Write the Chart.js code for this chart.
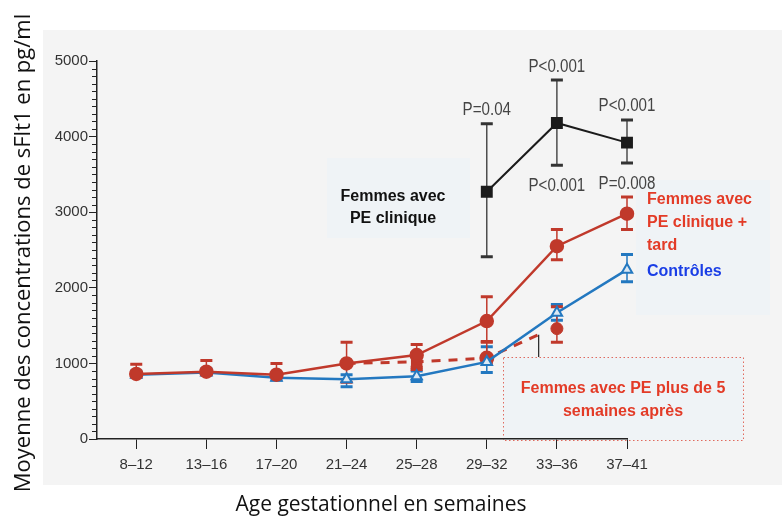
<!DOCTYPE html>
<html lang="fr">
<head>
<meta charset="UTF-8">
<title>sFlt1</title>
<script src="https://cdn.jsdelivr.net/npm/chart.js"></script>
<style>
  body { margin: 0; background: #ffffff; }
  canvas { display: block; }
</style>
</head>
<body>
<canvas id="myChart" width="782" height="520"></canvas>
<script>
// categories (gestational age, weeks)
var labels = ['8\u201312', '13\u201316', '17\u201320', '21\u201324', '25\u201328', '29\u201332', '33\u201336', '37\u201341'];

// Femmes avec PE clinique (black)
var peVal = [null, null, null, null, null, 3270, 4180, 3920];
var peLo  = [null, null, null, null, null, 2410, 3620, 3650];
var peHi  = [null, null, null, null, null, 4170, 4750, 4220];

// Femmes avec PE clinique + tard (red)
var tardVal = [860, 890, 850, 1000, 1110, 1560, 2550, 2980];
var tardLo  = [840, 860, 840, 750, 950, 1280, 2370, 2770];
var tardHi  = [990, 1040, 1000, 1280, 1250, 1880, 2770, 3200];

// Contrôles (blue)
var ctrlVal = [850, 880, 810, 790, 830, 1020, 1670, 2240];
var ctrlLo  = [820, 850, 780, 690, 760, 880, 1570, 2080];
var ctrlHi  = [900, 930, 850, 850, 900, 1220, 1780, 2440];

// Femmes avec PE plus de 5 semaines après (red dashed)
var lateX   = [3, 4, 5, 5.74];
var lateVal = [1000, 1020, 1070, 1380];
var lateLo  = [null, 920, 1000, null];
var lateHi  = [null, 1140, 1290, null];
var lateMark = [0, 6, 6, 0];
var lateShape = ['circle', 'rect', 'circle', 'circle'];
var lateDotX = 6, lateDot = 1460, lateDotLo = 1280, lateDotHi = 1750;

// p-values
var pTexts = [
  { x: 5, y: 4170, t: 'P=0.04', off: 14 },
  { x: 6, y: 4750, t: 'P<0.001', off: 13 },
  { x: 7, y: 4220, t: 'P<0.001', off: 14 },
  { x: 7, y: 3200, t: 'P=0.008', off: 13 },
  { x: 6, y: 2770, t: 'P<0.001', off: 44 }
];

var RED = '#c0392b', BLUE = '#2378c0', BLACK = '#1b1b1b';

function pts(xs, ys) {
  return ys.map(function (v, i) { return { x: xs ? xs[i] : i, y: v }; })
           .filter(function (p) { return p.y !== null; });
}

var errorSets = [
  { vals: ctrlVal, lo: ctrlLo, hi: ctrlHi, color: BLUE, w: 1.5 },
  { vals: lateVal, lo: lateLo, hi: lateHi, color: RED, w: 1.5, xs: lateX },
  { vals: tardVal, lo: tardLo, hi: tardHi, color: RED, w: 1.5 },
  { vals: peVal, lo: peLo, hi: peHi, color: '#333333', w: 1.3 },
  { vals: [lateDot], lo: [lateDotLo], hi: [lateDotHi], color: RED, w: 1.5, xs: [lateDotX] }
];

var decor = {
  id: 'decor',
  beforeDraw: function (chart) {
    var c = chart.ctx;
    c.save();
    c.fillStyle = '#f4f4f4';
    c.fillRect(43, 30, 739, 455);
    // soft boxes behind labels
    c.fillStyle = '#eff3f6';
    c.fillRect(327, 158, 143, 80);
    c.fillRect(636, 180, 134, 135);
    c.fillRect(503, 357, 240, 83);
    c.setLineDash([1.5, 2.5]);
    c.strokeStyle = '#e06a5e';
    c.lineWidth = 1;
    c.strokeRect(503.5, 357.5, 240, 83);
    c.restore();
  },
  beforeDatasetsDraw: function (chart) {
    var c = chart.ctx, xs = chart.scales.x, ys = chart.scales.y;
    c.save();
    // minor ticks on y axis
    c.strokeStyle = '#222';
    c.lineWidth = 1;
    for (var v = 100; v < 5000; v += 100) {
      if (v % 1000 === 0) continue;
      var py = Math.round(ys.getPixelForValue(v)) + 0.5;
      c.beginPath();
      c.moveTo(xs.left - 5, py);
      c.lineTo(xs.left, py);
      c.stroke();
    }
    // error bars
    errorSets.forEach(function (s) {
      c.strokeStyle = s.color;
      s.vals.forEach(function (v, i) {
        if (v === null || s.lo[i] === null) return;
        var px = xs.getPixelForValue(s.xs ? s.xs[i] : i);
        var top = ys.getPixelForValue(s.hi[i]);
        var bot = ys.getPixelForValue(s.lo[i]);
        c.lineWidth = s.w;
        c.beginPath();
        c.moveTo(px, top);
        c.lineTo(px, bot);
        c.stroke();
        c.lineWidth = 3;
        c.beginPath();
        c.moveTo(px - 6, top);
        c.lineTo(px + 6, top);
        c.moveTo(px - 6, bot);
        c.lineTo(px + 6, bot);
        c.stroke();
      });
    });
    // leader line from dashed series to its label box
    var lx = xs.getPixelForValue(lateX[lateX.length - 1]);
    c.strokeStyle = '#222';
    c.lineWidth = 1.2;
    c.beginPath();
    c.moveTo(lx, ys.getPixelForValue(lateVal[lateVal.length - 1]));
    c.lineTo(lx, 357);
    c.stroke();
    c.restore();
  },
  afterDraw: function (chart) {
    var c = chart.ctx, xs = chart.scales.x, ys = chart.scales.y;
    c.save();
    // p-values (condensed look)
    c.fillStyle = '#444';
    c.font = '18px "Liberation Sans"';
    c.textAlign = 'center';
    c.textBaseline = 'middle';
    pTexts.forEach(function (p) {
      c.save();
      c.translate(xs.getPixelForValue(p.x), ys.getPixelForValue(p.y) - p.off);
      c.scale(0.84, 1);
      c.fillText(p.t, 0, 0);
      c.restore();
    });
    // series labels
    c.font = 'bold 16px "Liberation Sans"';
    c.fillStyle = '#111';
    c.fillText('Femmes avec', 393, 197);
    c.fillText('PE clinique', 393, 219);
    c.textAlign = 'left';
    c.fillStyle = '#e33b27';
    c.fillText('Femmes avec', 647, 200);
    c.fillText('PE clinique +', 647, 223);
    c.fillText('tard', 647, 246);
    c.fillStyle = '#1a3ee6';
    c.fillText('Contr\u00f4les', 647, 272);
    c.textAlign = 'center';
    c.fillStyle = '#e33b27';
    c.fillText('Femmes avec PE plus de 5', 623, 389);
    c.fillText('semaines apr\u00e8s', 623, 412);
    // axis titles
    c.fillStyle = '#111';
    c.font = '21px "Open Sans"';
    c.fillText('Age gestationnel en semaines', 381, 505);
    c.translate(24, 253);
    c.rotate(-Math.PI / 2);
    c.font = '22px "Open Sans"';
    c.fillText('Moyenne des concentrations de sFlt1 en pg/ml', 0, 0, 480);
    c.restore();
  }
};

var datasets = [
  {
    label: 'Femmes avec PE clinique',
    data: pts(null, peVal),
    borderColor: BLACK, backgroundColor: BLACK, borderWidth: 2,
    pointStyle: 'rect', pointRadius: 7, order: 1
  },
  {
    label: 'Femmes avec PE clinique + tard',
    data: pts(null, tardVal),
    borderColor: RED, backgroundColor: RED, borderWidth: 2.5,
    pointStyle: 'circle', pointRadius: 6, order: 2
  },
  {
    label: 'Femmes avec PE plus de 5 semaines après',
    data: pts(lateX, lateVal),
    borderColor: RED, backgroundColor: RED, borderWidth: 3,
    borderDash: [9, 8], pointRadius: lateMark, pointStyle: lateShape, order: 4
  },
  {
    label: 'late dot',
    data: [{ x: lateDotX, y: lateDot }],
    borderColor: RED, backgroundColor: RED, showLine: false,
    pointStyle: 'circle', pointRadius: 6, order: 5
  },
  {
    label: 'Contrôles',
    data: pts(null, ctrlVal),
    borderColor: BLUE, backgroundColor: '#dce9f4', borderWidth: 2.5,
    pointStyle: 'triangle', pointRadius: 6, pointBorderWidth: 2, order: 3
  }
];
datasets.forEach(function (d) { d.type = 'line'; d.tension = 0; d.clip = false; });

var ctx = document.getElementById('myChart').getContext('2d');
var myChart = new Chart(ctx, {
  type: 'line',
  data: { datasets: datasets },
  options: {
    responsive: false,
    animation: false,
    layout: { padding: { left: 0, top: 61, right: 155, bottom: 0 } },
    plugins: { legend: { display: false }, tooltip: { enabled: false } },
    scales: {
      x: {
        type: 'linear',
        min: -0.56,
        max: 7,
        afterBuildTicks: function (s) { s.ticks = labels.map(function (_, i) { return { value: i }; }); },
        afterFit: function (s) { s.height = 81; },
        border: { color: '#222', width: 1.5 },
        grid: { drawOnChartArea: false, tickLength: 10, tickColor: '#222' },
        ticks: {
          autoSkip: false,
          maxRotation: 0,
          padding: 7,
          color: '#333',
          font: { size: 15, family: 'Liberation Sans' },
          callback: function (v) { return labels[v]; }
        }
      },
      y: {
        min: 0,
        max: 5000,
        afterFit: function (s) { s.width = 97; },
        border: { color: '#222', width: 1.5 },
        grid: { drawOnChartArea: false, tickLength: 8, tickColor: '#222' },
        ticks: {
          stepSize: 1000,
          padding: 1,
          color: '#333',
          font: { size: 15, family: 'Liberation Sans' },
          callback: function (v) { return String(v); }
        }
      }
    }
  },
  plugins: [decor]
});
</script>
</body>
</html>
